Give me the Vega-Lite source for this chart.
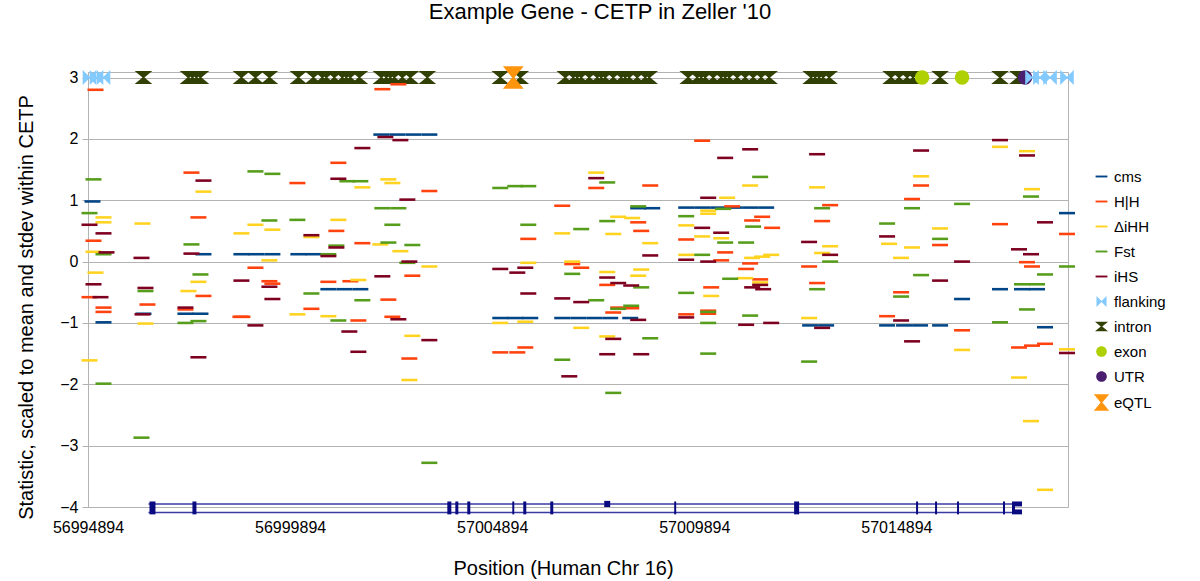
{
"$schema":"https://vega.github.io/schema/vega-lite/v6.json",
"width":980,"height":435,
"autosize":{"type":"none"},
"padding":{"left":88,"top":72,"right":132,"bottom":74},
"background":"white",
"title":{"text":"Example Gene - CETP in Zeller '10","fontSize":22,"font":"Liberation Sans","fontWeight":"normal","color":"#000000","anchor":"middle","offset":42,"dx":22},
"config":{"view":{"stroke":"#b3b3b3","strokeWidth":1},"font":"Liberation Sans"},
"datasets":{
"gene_lines":[
{"position":56996390,"position_end":57017953,"value":-3.95},
{"position":56996390,"position_end":57017953,"value":-4.09}
],
"gene_exons":[
{"position":56996415,"position_end":56996563,"value":-3.91,"value_end":-4.12},
{"position":56997478,"position_end":56997577,"value":-3.91,"value_end":-4.12},
{"position":57003784,"position_end":57003883,"value":-3.91,"value_end":-4.12},
{"position":57003982,"position_end":57004056,"value":-3.91,"value_end":-4.12},
{"position":57004278,"position_end":57004352,"value":-3.91,"value_end":-4.12},
{"position":57005391,"position_end":57005440,"value":-3.91,"value_end":-4.12},
{"position":57005663,"position_end":57005737,"value":-3.91,"value_end":-4.12},
{"position":57006331,"position_end":57006405,"value":-3.91,"value_end":-4.12},
{"position":57007666,"position_end":57007814,"value":-3.90,"value_end":-4.00},
{"position":57009397,"position_end":57009446,"value":-3.91,"value_end":-4.12},
{"position":57012364,"position_end":57012488,"value":-3.91,"value_end":-4.12},
{"position":57015381,"position_end":57015431,"value":-3.91,"value_end":-4.12},
{"position":57015851,"position_end":57015900,"value":-3.91,"value_end":-4.12},
{"position":57016395,"position_end":57016444,"value":-3.91,"value_end":-4.12},
{"position":57017532,"position_end":57017582,"value":-3.91,"value_end":-4.12},
{"position":57017755,"position_end":57017829,"value":-3.91,"value_end":-4.12},
{"position":57017829,"position_end":57018002,"value":-3.91,"value_end":-3.99},
{"position":57017829,"position_end":57018002,"value":-4.04,"value_end":-4.12}
],
"stats":[
{"series":"intron","position":56996266,"value":3},
{"series":"intron","position":56997379,"value":3},
{"series":"intron","position":56997478,"value":3},
{"series":"intron","position":56997577,"value":3},
{"series":"intron","position":56997676,"value":3},
{"series":"intron","position":56998690,"value":3},
{"series":"intron","position":56999036,"value":3},
{"series":"intron","position":56999382,"value":3},
{"series":"intron","position":57000099,"value":3},
{"series":"intron","position":57000470,"value":3},
{"series":"intron","position":57000693,"value":3},
{"series":"intron","position":57000792,"value":3},
{"series":"intron","position":57000989,"value":3},
{"series":"intron","position":57001187,"value":3},
{"series":"intron","position":57001286,"value":3},
{"series":"intron","position":57001385,"value":3},
{"series":"intron","position":57001608,"value":3},
{"series":"intron","position":57002152,"value":3},
{"series":"intron","position":57002275,"value":3},
{"series":"intron","position":57002374,"value":3},
{"series":"intron","position":57002473,"value":3},
{"series":"intron","position":57002671,"value":3},
{"series":"intron","position":57002869,"value":3},
{"series":"intron","position":57003289,"value":3},
{"series":"intron","position":57005094,"value":3},
{"series":"intron","position":57005589,"value":3},
{"series":"intron","position":57006702,"value":3},
{"series":"intron","position":57006899,"value":3},
{"series":"intron","position":57006998,"value":3},
{"series":"intron","position":57007097,"value":3},
{"series":"intron","position":57007295,"value":3},
{"series":"intron","position":57007493,"value":3},
{"series":"intron","position":57007592,"value":3},
{"series":"intron","position":57007691,"value":3},
{"series":"intron","position":57007889,"value":3},
{"series":"intron","position":57008086,"value":3},
{"series":"intron","position":57008185,"value":3},
{"series":"intron","position":57008284,"value":3},
{"series":"intron","position":57008482,"value":3},
{"series":"intron","position":57008680,"value":3},
{"series":"intron","position":57008779,"value":3},
{"series":"intron","position":57009743,"value":3},
{"series":"intron","position":57009966,"value":3},
{"series":"intron","position":57010065,"value":3},
{"series":"intron","position":57010164,"value":3},
{"series":"intron","position":57010361,"value":3},
{"series":"intron","position":57010559,"value":3},
{"series":"intron","position":57010658,"value":3},
{"series":"intron","position":57010757,"value":3},
{"series":"intron","position":57010955,"value":3},
{"series":"intron","position":57011153,"value":3},
{"series":"intron","position":57011350,"value":3},
{"series":"intron","position":57011548,"value":3},
{"series":"intron","position":57011746,"value":3},
{"series":"intron","position":57012785,"value":3},
{"series":"intron","position":57012884,"value":3},
{"series":"intron","position":57012983,"value":3},
{"series":"intron","position":57013081,"value":3},
{"series":"intron","position":57013230,"value":3},
{"series":"intron","position":57014763,"value":3},
{"series":"intron","position":57014961,"value":3},
{"series":"intron","position":57015159,"value":3},
{"series":"intron","position":57015307,"value":3},
{"series":"intron","position":57015975,"value":3},
{"series":"intron","position":57017458,"value":3},
{"series":"intron","position":57017903,"value":3},
{"series":"eQTL","position":57005416,"value":3},
{"series":"exon","position":57015530,"value":3},
{"series":"exon","position":57016519,"value":3},
{"series":"UTR","position":57018077,"value":3},
{"series":"flanking","position":56994931,"value":3},
{"series":"flanking","position":56995104,"value":3},
{"series":"flanking","position":56995277,"value":3},
{"series":"flanking","position":57018250,"value":3},
{"series":"flanking","position":57018447,"value":3},
{"series":"flanking","position":57018695,"value":3},
{"series":"flanking","position":57019115,"value":3},
{"series":"cms","position":56995005,"value":0.98},
{"series":"cms","position":56995277,"value":-0.99},
{"series":"cms","position":56996266,"value":-0.85},
{"series":"cms","position":56997305,"value":-0.85},
{"series":"cms","position":56997676,"value":-0.85},
{"series":"cms","position":56997750,"value":0.12},
{"series":"cms","position":56998690,"value":0.12},
{"series":"cms","position":56999061,"value":0.12},
{"series":"cms","position":56999456,"value":0.12},
{"series":"cms","position":57000099,"value":0.12},
{"series":"cms","position":57000470,"value":0.12},
{"series":"cms","position":57000841,"value":-0.45},
{"series":"cms","position":57001237,"value":-0.45},
{"series":"cms","position":57001632,"value":-0.45},
{"series":"cms","position":57002152,"value":2.07},
{"series":"cms","position":57002547,"value":2.07},
{"series":"cms","position":57002943,"value":2.07},
{"series":"cms","position":57003339,"value":2.07},
{"series":"cms","position":57005094,"value":-0.92},
{"series":"cms","position":57005465,"value":-0.92},
{"series":"cms","position":57005836,"value":-0.92},
{"series":"cms","position":57006627,"value":-0.92},
{"series":"cms","position":57007023,"value":-0.92},
{"series":"cms","position":57007419,"value":-0.92},
{"series":"cms","position":57007814,"value":-0.92},
{"series":"cms","position":57008309,"value":-0.92},
{"series":"cms","position":57008507,"value":0.87},
{"series":"cms","position":57008853,"value":0.87},
{"series":"cms","position":57009694,"value":0.88},
{"series":"cms","position":57010089,"value":0.88},
{"series":"cms","position":57010485,"value":0.88},
{"series":"cms","position":57010881,"value":0.88},
{"series":"cms","position":57011276,"value":0.88},
{"series":"cms","position":57011672,"value":0.88},
{"series":"cms","position":57012760,"value":-1.04},
{"series":"cms","position":57013156,"value":-1.04},
{"series":"cms","position":57014664,"value":-1.04},
{"series":"cms","position":57015084,"value":-1.04},
{"series":"cms","position":57015480,"value":-1.04},
{"series":"cms","position":57015975,"value":-1.04},
{"series":"cms","position":57016519,"value":-0.61},
{"series":"cms","position":57017458,"value":-0.45},
{"series":"cms","position":57018002,"value":-0.45},
{"series":"cms","position":57018373,"value":-0.45},
{"series":"cms","position":57018571,"value":-1.07},
{"series":"cms","position":57019115,"value":0.79},
{"series":"H|H","position":56995079,"value":2.80},
{"series":"H|H","position":56995030,"value":0.34},
{"series":"H|H","position":56994931,"value":-0.58},
{"series":"H|H","position":56995277,"value":-0.75},
{"series":"H|H","position":56995277,"value":-0.82},
{"series":"H|H","position":56997453,"value":1.45},
{"series":"H|H","position":56997626,"value":0.72},
{"series":"H|H","position":56996365,"value":-0.70},
{"series":"H|H","position":56997750,"value":-0.56},
{"series":"H|H","position":56997305,"value":-0.78},
{"series":"H|H","position":56998665,"value":-0.90},
{"series":"H|H","position":57002176,"value":2.81},
{"series":"H|H","position":57002572,"value":2.89},
{"series":"H|H","position":57001088,"value":1.61},
{"series":"H|H","position":57000075,"value":1.28},
{"series":"H|H","position":57001039,"value":0.50},
{"series":"H|H","position":57001682,"value":0.30},
{"series":"H|H","position":56999036,"value":-0.10},
{"series":"H|H","position":56999382,"value":-0.32},
{"series":"H|H","position":56999456,"value":-0.36},
{"series":"H|H","position":57000841,"value":-0.33},
{"series":"H|H","position":57001385,"value":-0.32},
{"series":"H|H","position":57002325,"value":-0.62},
{"series":"H|H","position":57000421,"value":-0.77},
{"series":"H|H","position":56998714,"value":-0.90},
{"series":"H|H","position":57001583,"value":-0.96},
{"series":"H|H","position":57002424,"value":-0.90},
{"series":"H|H","position":57003339,"value":1.15},
{"series":"H|H","position":57006627,"value":0.91},
{"series":"H|H","position":57005787,"value":0.37},
{"series":"H|H","position":57002918,"value":-0.23},
{"series":"H|H","position":57005094,"value":-1.48},
{"series":"H|H","position":57005515,"value":-1.48},
{"series":"H|H","position":57005713,"value":-1.40},
{"series":"H|H","position":57002844,"value":-1.58},
{"series":"H|H","position":57010089,"value":1.97},
{"series":"H|H","position":57007468,"value":1.20},
{"series":"H|H","position":57008804,"value":1.24},
{"series":"H|H","position":57008507,"value":0.64},
{"series":"H|H","position":57008581,"value":0.50},
{"series":"H|H","position":57009694,"value":0.36},
{"series":"H|H","position":57010658,"value":0.15},
{"series":"H|H","position":57010559,"value":0.02},
{"series":"H|H","position":57006875,"value":-0.04},
{"series":"H|H","position":57007097,"value":-0.10},
{"series":"H|H","position":57007740,"value":-0.38},
{"series":"H|H","position":57010312,"value":-0.42},
{"series":"H|H","position":57008334,"value":-0.76},
{"series":"H|H","position":57008012,"value":-0.75},
{"series":"H|H","position":57007889,"value":-0.83},
{"series":"H|H","position":57009694,"value":-0.86},
{"series":"H|H","position":57010238,"value":-0.85},
{"series":"H|H","position":57010238,"value":-0.80},
{"series":"H|H","position":57010831,"value":0.90},
{"series":"H|H","position":57013255,"value":0.92},
{"series":"H|H","position":57013057,"value":0.66},
{"series":"H|H","position":57011573,"value":0.73},
{"series":"H|H","position":57011326,"value":0.67},
{"series":"H|H","position":57011820,"value":0.55},
{"series":"H|H","position":57011276,"value":-0.03},
{"series":"H|H","position":57012735,"value":-0.08},
{"series":"H|H","position":57011177,"value":-0.12},
{"series":"H|H","position":57011524,"value":-0.29},
{"series":"H|H","position":57012933,"value":-0.35},
{"series":"H|H","position":57014664,"value":-0.89},
{"series":"H|H","position":57015505,"value":1.24},
{"series":"H|H","position":57015282,"value":1.02},
{"series":"H|H","position":57017458,"value":0.61},
{"series":"H|H","position":57019115,"value":0.45},
{"series":"H|H","position":57015975,"value":0.27},
{"series":"H|H","position":57018126,"value":-0.01},
{"series":"H|H","position":57018250,"value":-0.08},
{"series":"H|H","position":57015010,"value":-0.50},
{"series":"H|H","position":57016519,"value":-1.12},
{"series":"H|H","position":57017928,"value":-1.40},
{"series":"H|H","position":57018250,"value":-1.37},
{"series":"H|H","position":57018571,"value":-1.34},
{"series":"ΔiHH","position":56995277,"value":0.72},
{"series":"ΔiHH","position":56995277,"value":0.64},
{"series":"ΔiHH","position":56996242,"value":0.62},
{"series":"ΔiHH","position":56995030,"value":0.16},
{"series":"ΔiHH","position":56995079,"value":-0.18},
{"series":"ΔiHH","position":56997750,"value":1.14},
{"series":"ΔiHH","position":56998690,"value":0.46},
{"series":"ΔiHH","position":56997626,"value":-0.33},
{"series":"ΔiHH","position":56997379,"value":-0.48},
{"series":"ΔiHH","position":56996316,"value":-1.01},
{"series":"ΔiHH","position":56994931,"value":-1.61},
{"series":"ΔiHH","position":57001682,"value":1.21},
{"series":"ΔiHH","position":57002325,"value":1.34},
{"series":"ΔiHH","position":57002424,"value":1.28},
{"series":"ΔiHH","position":56999036,"value":0.60},
{"series":"ΔiHH","position":56999456,"value":0.52},
{"series":"ΔiHH","position":57001088,"value":0.68},
{"series":"ΔiHH","position":57000421,"value":0.40},
{"series":"ΔiHH","position":57002127,"value":0.28},
{"series":"ΔiHH","position":57002622,"value":0.17},
{"series":"ΔiHH","position":56999382,"value":0.02},
{"series":"ΔiHH","position":57001583,"value":-0.30},
{"series":"ΔiHH","position":57000075,"value":-0.86},
{"series":"ΔiHH","position":57000841,"value":-0.89},
{"series":"ΔiHH","position":57002918,"value":-1.21},
{"series":"ΔiHH","position":57003339,"value":-0.08},
{"series":"ΔiHH","position":57005787,"value":-0.02},
{"series":"ΔiHH","position":57005094,"value":-1.00},
{"series":"ΔiHH","position":57005713,"value":-0.98},
{"series":"ΔiHH","position":57006627,"value":0.46},
{"series":"ΔiHH","position":57006875,"value":0.00},
{"series":"ΔiHH","position":57002844,"value":-1.93},
{"series":"ΔiHH","position":57007468,"value":1.45},
{"series":"ΔiHH","position":57010708,"value":1.04},
{"series":"ΔiHH","position":57010238,"value":0.83},
{"series":"ΔiHH","position":57010238,"value":0.78},
{"series":"ΔiHH","position":57008012,"value":0.73},
{"series":"ΔiHH","position":57008358,"value":0.71},
{"series":"ΔiHH","position":57009694,"value":0.59},
{"series":"ΔiHH","position":57007889,"value":0.45},
{"series":"ΔiHH","position":57010089,"value":0.41},
{"series":"ΔiHH","position":57010559,"value":0.38},
{"series":"ΔiHH","position":57008804,"value":0.30},
{"series":"ΔiHH","position":57009694,"value":0.11},
{"series":"ΔiHH","position":57007740,"value":-0.17},
{"series":"ΔiHH","position":57008581,"value":-0.13},
{"series":"ΔiHH","position":57008507,"value":-0.23},
{"series":"ΔiHH","position":57010312,"value":-0.56},
{"series":"ΔiHH","position":57007097,"value":-1.08},
{"series":"ΔiHH","position":57007740,"value":-1.22},
{"series":"ΔiHH","position":57011276,"value":1.24},
{"series":"ΔiHH","position":57012933,"value":1.21},
{"series":"ΔiHH","position":57013255,"value":0.25},
{"series":"ΔiHH","position":57013057,"value":0.14},
{"series":"ΔiHH","position":57011796,"value":0.11},
{"series":"ΔiHH","position":57011573,"value":0.08},
{"series":"ΔiHH","position":57011326,"value":0.06},
{"series":"ΔiHH","position":57011153,"value":-0.27},
{"series":"ΔiHH","position":57011524,"value":-0.34},
{"series":"ΔiHH","position":57012735,"value":-0.92},
{"series":"ΔiHH","position":57017458,"value":1.87},
{"series":"ΔiHH","position":57018126,"value":1.80},
{"series":"ΔiHH","position":57015505,"value":1.39},
{"series":"ΔiHH","position":57018250,"value":1.18},
{"series":"ΔiHH","position":57015975,"value":0.54},
{"series":"ΔiHH","position":57014713,"value":0.29},
{"series":"ΔiHH","position":57015282,"value":0.23},
{"series":"ΔiHH","position":57015010,"value":0.06},
{"series":"ΔiHH","position":57019115,"value":-1.43},
{"series":"ΔiHH","position":57016519,"value":-1.44},
{"series":"ΔiHH","position":57017928,"value":-1.89},
{"series":"ΔiHH","position":57018225,"value":-2.60},
{"series":"ΔiHH","position":57018571,"value":-3.72},
{"series":"Fst","position":56995030,"value":1.34},
{"series":"Fst","position":56994931,"value":0.79},
{"series":"Fst","position":56995277,"value":0.12},
{"series":"Fst","position":56996316,"value":-0.48},
{"series":"Fst","position":56997676,"value":-0.21},
{"series":"Fst","position":56997305,"value":-1.00},
{"series":"Fst","position":56997626,"value":-0.97},
{"series":"Fst","position":56997453,"value":0.28},
{"series":"Fst","position":56995277,"value":-1.99},
{"series":"Fst","position":56996217,"value":-2.87},
{"series":"Fst","position":56999036,"value":1.47},
{"series":"Fst","position":56999456,"value":1.43},
{"series":"Fst","position":57001311,"value":1.31},
{"series":"Fst","position":57001632,"value":1.31},
{"series":"Fst","position":57002176,"value":0.87},
{"series":"Fst","position":57002572,"value":0.87},
{"series":"Fst","position":57002424,"value":0.60},
{"series":"Fst","position":56999382,"value":0.67},
{"series":"Fst","position":57000075,"value":0.68},
{"series":"Fst","position":57002325,"value":0.31},
{"series":"Fst","position":57001039,"value":0.26},
{"series":"Fst","position":57000841,"value":0.12},
{"series":"Fst","position":57002795,"value":-0.02},
{"series":"Fst","position":57000421,"value":-0.52},
{"series":"Fst","position":57001682,"value":-0.63},
{"series":"Fst","position":57001088,"value":-0.96},
{"series":"Fst","position":57005094,"value":1.20},
{"series":"Fst","position":57005465,"value":1.23},
{"series":"Fst","position":57005787,"value":1.23},
{"series":"Fst","position":57005787,"value":0.60},
{"series":"Fst","position":57002918,"value":0.27},
{"series":"Fst","position":57006875,"value":-0.20},
{"series":"Fst","position":57006627,"value":-1.60},
{"series":"Fst","position":57003339,"value":-3.28},
{"series":"Fst","position":57007740,"value":1.29},
{"series":"Fst","position":57008507,"value":0.90},
{"series":"Fst","position":57009694,"value":0.74},
{"series":"Fst","position":57007740,"value":0.66},
{"series":"Fst","position":57007097,"value":0.53},
{"series":"Fst","position":57010658,"value":0.31},
{"series":"Fst","position":57010089,"value":0.11},
{"series":"Fst","position":57008581,"value":-0.42},
{"series":"Fst","position":57010782,"value":-0.28},
{"series":"Fst","position":57009694,"value":-0.51},
{"series":"Fst","position":57007468,"value":-0.63},
{"series":"Fst","position":57008334,"value":-0.72},
{"series":"Fst","position":57008012,"value":-0.77},
{"series":"Fst","position":57010238,"value":-0.82},
{"series":"Fst","position":57010238,"value":-1.00},
{"series":"Fst","position":57008804,"value":-1.25},
{"series":"Fst","position":57010238,"value":-1.50},
{"series":"Fst","position":57007889,"value":-2.14},
{"series":"Fst","position":57011524,"value":1.38},
{"series":"Fst","position":57010609,"value":0.86},
{"series":"Fst","position":57013057,"value":0.87},
{"series":"Fst","position":57011350,"value":0.57},
{"series":"Fst","position":57014664,"value":0.62},
{"series":"Fst","position":57011177,"value":0.31},
{"series":"Fst","position":57013255,"value":0.00},
{"series":"Fst","position":57012933,"value":-0.45},
{"series":"Fst","position":57011276,"value":-0.88},
{"series":"Fst","position":57012735,"value":-1.63},
{"series":"Fst","position":57018225,"value":1.06},
{"series":"Fst","position":57015282,"value":0.87},
{"series":"Fst","position":57016519,"value":0.94},
{"series":"Fst","position":57015975,"value":0.37},
{"series":"Fst","position":57019115,"value":-0.08},
{"series":"Fst","position":57015505,"value":-0.22},
{"series":"Fst","position":57018571,"value":-0.21},
{"series":"Fst","position":57018002,"value":-0.37},
{"series":"Fst","position":57018373,"value":-0.37},
{"series":"Fst","position":57015010,"value":-0.57},
{"series":"Fst","position":57018126,"value":-0.78},
{"series":"Fst","position":57017458,"value":-0.99},
{"series":"iHS","position":56994931,"value":0.60},
{"series":"iHS","position":56995277,"value":0.46},
{"series":"iHS","position":56995351,"value":0.15},
{"series":"iHS","position":56996217,"value":0.06},
{"series":"iHS","position":56995030,"value":-0.37},
{"series":"iHS","position":56995203,"value":-0.58},
{"series":"iHS","position":56996316,"value":-0.43},
{"series":"iHS","position":56996242,"value":-0.86},
{"series":"iHS","position":56997305,"value":-0.75},
{"series":"iHS","position":56997750,"value":1.32},
{"series":"iHS","position":56997453,"value":0.13},
{"series":"iHS","position":56997626,"value":-1.56},
{"series":"iHS","position":56998690,"value":-0.31},
{"series":"iHS","position":56999036,"value":-1.04},
{"series":"iHS","position":57002251,"value":2.03},
{"series":"iHS","position":57002622,"value":1.98},
{"series":"iHS","position":57001682,"value":1.85},
{"series":"iHS","position":57001088,"value":1.35},
{"series":"iHS","position":57002795,"value":1.01},
{"series":"iHS","position":57000421,"value":0.43},
{"series":"iHS","position":57001039,"value":0.23},
{"series":"iHS","position":57000841,"value":0.09},
{"series":"iHS","position":57002844,"value":0.00},
{"series":"iHS","position":56999382,"value":-0.41},
{"series":"iHS","position":57002176,"value":-0.24},
{"series":"iHS","position":56999456,"value":-0.61},
{"series":"iHS","position":57002572,"value":-0.94},
{"series":"iHS","position":57001360,"value":-1.14},
{"series":"iHS","position":57001583,"value":-1.47},
{"series":"iHS","position":57005094,"value":-0.12},
{"series":"iHS","position":57005713,"value":-0.10},
{"series":"iHS","position":57005515,"value":-0.18},
{"series":"iHS","position":57005787,"value":-0.52},
{"series":"iHS","position":57006627,"value":-0.60},
{"series":"iHS","position":57003339,"value":-1.28},
{"series":"iHS","position":57006801,"value":-1.87},
{"series":"iHS","position":57010658,"value":1.69},
{"series":"iHS","position":57007468,"value":1.36},
{"series":"iHS","position":57010238,"value":1.04},
{"series":"iHS","position":57010089,"value":0.55},
{"series":"iHS","position":57010559,"value":0.47},
{"series":"iHS","position":57008804,"value":0.10},
{"series":"iHS","position":57009694,"value":0.03},
{"series":"iHS","position":57010238,"value":0.00},
{"series":"iHS","position":57007740,"value":-0.26},
{"series":"iHS","position":57008012,"value":-0.35},
{"series":"iHS","position":57008334,"value":-0.39},
{"series":"iHS","position":57007097,"value":-0.66},
{"series":"iHS","position":57008507,"value":-0.95},
{"series":"iHS","position":57009694,"value":-0.91},
{"series":"iHS","position":57007889,"value":-1.26},
{"series":"iHS","position":57007740,"value":-1.51},
{"series":"iHS","position":57008581,"value":-1.51},
{"series":"iHS","position":57011276,"value":1.83},
{"series":"iHS","position":57012933,"value":1.75},
{"series":"iHS","position":57012735,"value":0.32},
{"series":"iHS","position":57014664,"value":0.41},
{"series":"iHS","position":57013255,"value":0.11},
{"series":"iHS","position":57011326,"value":-0.42},
{"series":"iHS","position":57011598,"value":-0.45},
{"series":"iHS","position":57011524,"value":-0.38},
{"series":"iHS","position":57011177,"value":-1.03},
{"series":"iHS","position":57011796,"value":-1.00},
{"series":"iHS","position":57013057,"value":-1.08},
{"series":"iHS","position":57017458,"value":1.98},
{"series":"iHS","position":57018126,"value":1.73},
{"series":"iHS","position":57015505,"value":1.81},
{"series":"iHS","position":57018571,"value":0.64},
{"series":"iHS","position":57017928,"value":0.20},
{"series":"iHS","position":57018225,"value":0.12},
{"series":"iHS","position":57016519,"value":0.00},
{"series":"iHS","position":57015975,"value":-0.31},
{"series":"iHS","position":57015010,"value":-0.96},
{"series":"iHS","position":57015282,"value":-1.30},
{"series":"iHS","position":57019115,"value":-1.49}
]
},
"encoding":{
"x":{"field":"position","type":"quantitative","title":"Position (Human Chr 16)",
 "scale":{"domain":[56994894,57019140],"nice":false,"zero":false},
 "axis":{"values":[56994894,56999894,57004894,57009894,57014894],"format":"d","grid":false,"ticks":false,"tickSize":0,"domain":false,"labelFlush":false,"labelFontSize":16,"labelFont":"Liberation Sans","labelColor":"#000000","labelPadding":12,"titleFontSize":20,"titleFont":"Liberation Sans","titleFontWeight":"normal","titleColor":"#000000","titlePadding":23,"titleX":475}},
"y":{"field":"value","type":"quantitative","title":"Statistic, scaled to mean and stdev within CETP",
 "scale":{"domain":[-4,3.09],"nice":false,"zero":false},
 "axis":{"values":[-4,-3,-2,-1,0,1,2,3],"grid":true,"gridColor":"#b3b3b3","gridWidth":1,"gridOpacity":{"condition":{"test":"datum.value === -4","value":0},"value":1},"domainColor":"#b3b3b3","tickColor":"#b3b3b3","tickSize":6,"labelFontSize":16,"labelFont":"Liberation Sans","labelColor":"#000000","labelPadding":4,"titleFontSize":20,"titleFont":"Liberation Sans","titleFontWeight":"normal","titleColor":"#000000","titlePadding":23,"titleY":235}}
},
"layer":[
{"data":{"name":"gene_lines"},"mark":{"type":"rule","color":"#3a3aa5","strokeWidth":1.6},
 "encoding":{"x2":{"field":"position_end"}}},
{"data":{"name":"gene_exons"},"mark":{"type":"rect","color":"#0a0a80"},
 "encoding":{"x2":{"field":"position_end"},"y2":{"field":"value_end"}}},
{"data":{"name":"stats"},"mark":{"type":"point","filled":true,"opacity":1,"size":256,"strokeWidth":0},
 "encoding":{
 "color":{"field":"series","type":"nominal",
  "scale":{"domain":["cms","H|H","ΔiHH","Fst","iHS","flanking","intron","exon","UTR","eQTL"],"range":["#004586","#ff420e","#ffd320","#579d1c","#7e0021","#83caff","#314004","#aecf00","#4b1f6f","#ff950e"]},
  "legend":{"title":null,"orient":"none","legendX":1006,"legendY":97,"symbolSize":140,"labelFontSize":15,"labelFont":"Liberation Sans","labelColor":"#000000","rowPadding":9,"labelOffset":5,"padding":0,"symbolStrokeWidth":0}},
 "shape":{"field":"series","type":"nominal",
  "scale":{"domain":["cms","H|H","ΔiHH","Fst","iHS","flanking","intron","exon","UTR","eQTL"],"range":["M-1,-0.16H1V0.16H-1Z","M-1,-0.16H1V0.16H-1Z","M-1,-0.16H1V0.16H-1Z","M-1,-0.16H1V0.16H-1Z","M-1,-0.16H1V0.16H-1Z","M-0.85,-0.95L0,-0.1L0.85,-0.95V0.95L0,0.1L-0.85,0.95Z","M-1.1,-0.8H1.1L0.12,0L1.1,0.8H-1.1L-0.12,0Z","M-0.9,0A0.9,0.9,0,1,1,0.9,0A0.9,0.9,0,1,1,-0.9,0Z","M-0.9,0A0.9,0.9,0,1,1,0.9,0A0.9,0.9,0,1,1,-0.9,0Z","M-1.3,-1.4H1.3L0.15,0L1.3,1.4H-1.3L-0.15,0Z"]},
  "legend":{"title":null,"orient":"none","legendX":1006,"legendY":97,"symbolSize":140,"labelFontSize":15,"labelFont":"Liberation Sans","labelColor":"#000000","rowPadding":9,"labelOffset":5,"padding":0,"symbolStrokeWidth":0}}
 }}
]
}
